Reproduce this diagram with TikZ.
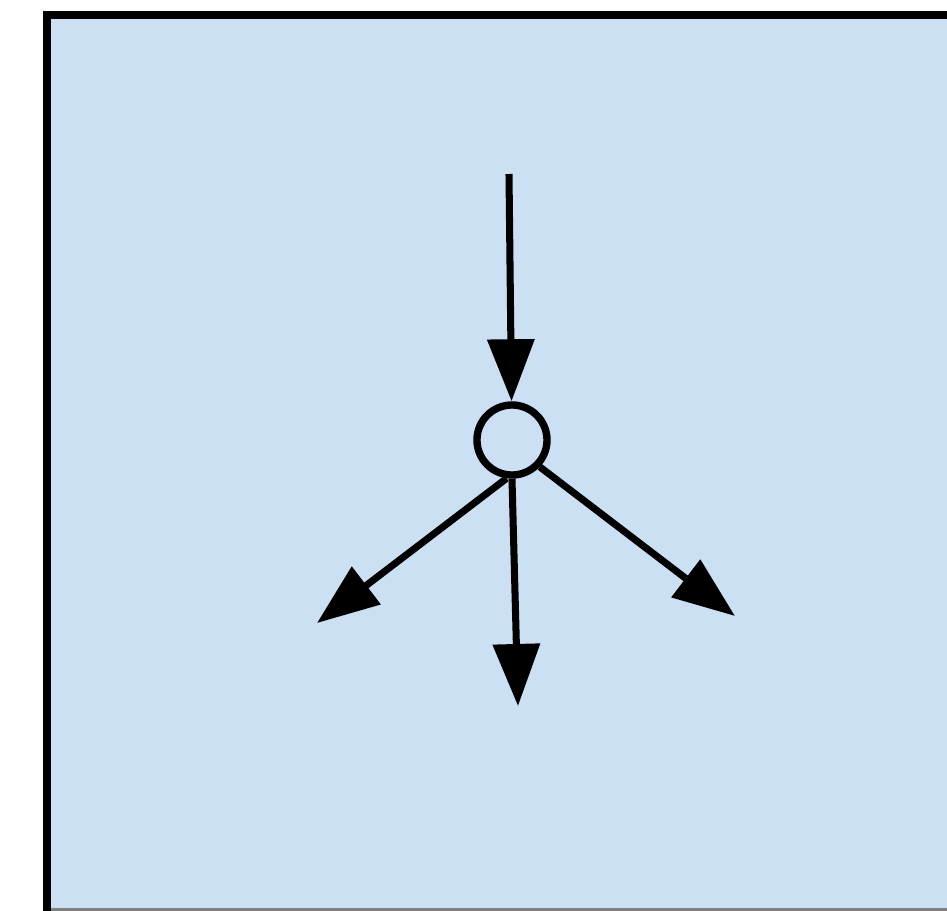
\documentclass[tikz,border=0pt]{standalone}
\usepackage{tikz}
\usetikzlibrary{arrows.meta}
\definecolor{panelblue}{RGB}{204,224,244}

\begin{document}
\begin{tikzpicture}[x=0.01cm, y=-0.01cm,
    flow/.style={line width=2pt, -{Triangle[length=0.62cm, width=0.46cm]}},
    hubnode/.style={circle, draw, line width=2.1pt, inner sep=0pt, minimum size=0.70cm}]
    % Bounding box
    \useasboundingbox (0,0) rectangle (947,911);
    \clip (0,0) rectangle (947,911);

    % Panel
    \fill[panelblue] (47,15) rectangle (960,909);
    \draw[gray, line width=0.8pt] (47,909.5) -- (960,909.5);
    \draw[line width=2.5pt] (47,911) -- (47,15) -- (960,15);

    % Hub and ends
    \node[hubnode] (hub) at (512,440) {};
    \coordinate (src) at (509,174);
    \coordinate (outL) at (317,623);
    \coordinate (outB) at (518,706);
    \coordinate (outR) at (735,616);

    % Arrows
    \draw[flow] (src) -- (hub);
    \draw[flow] (hub.-98) -- (outL);
    \draw[flow] (hub.south) -- (outB);
    \draw[flow] (hub.-44) -- (outR);
\end{tikzpicture}
\end{document}
